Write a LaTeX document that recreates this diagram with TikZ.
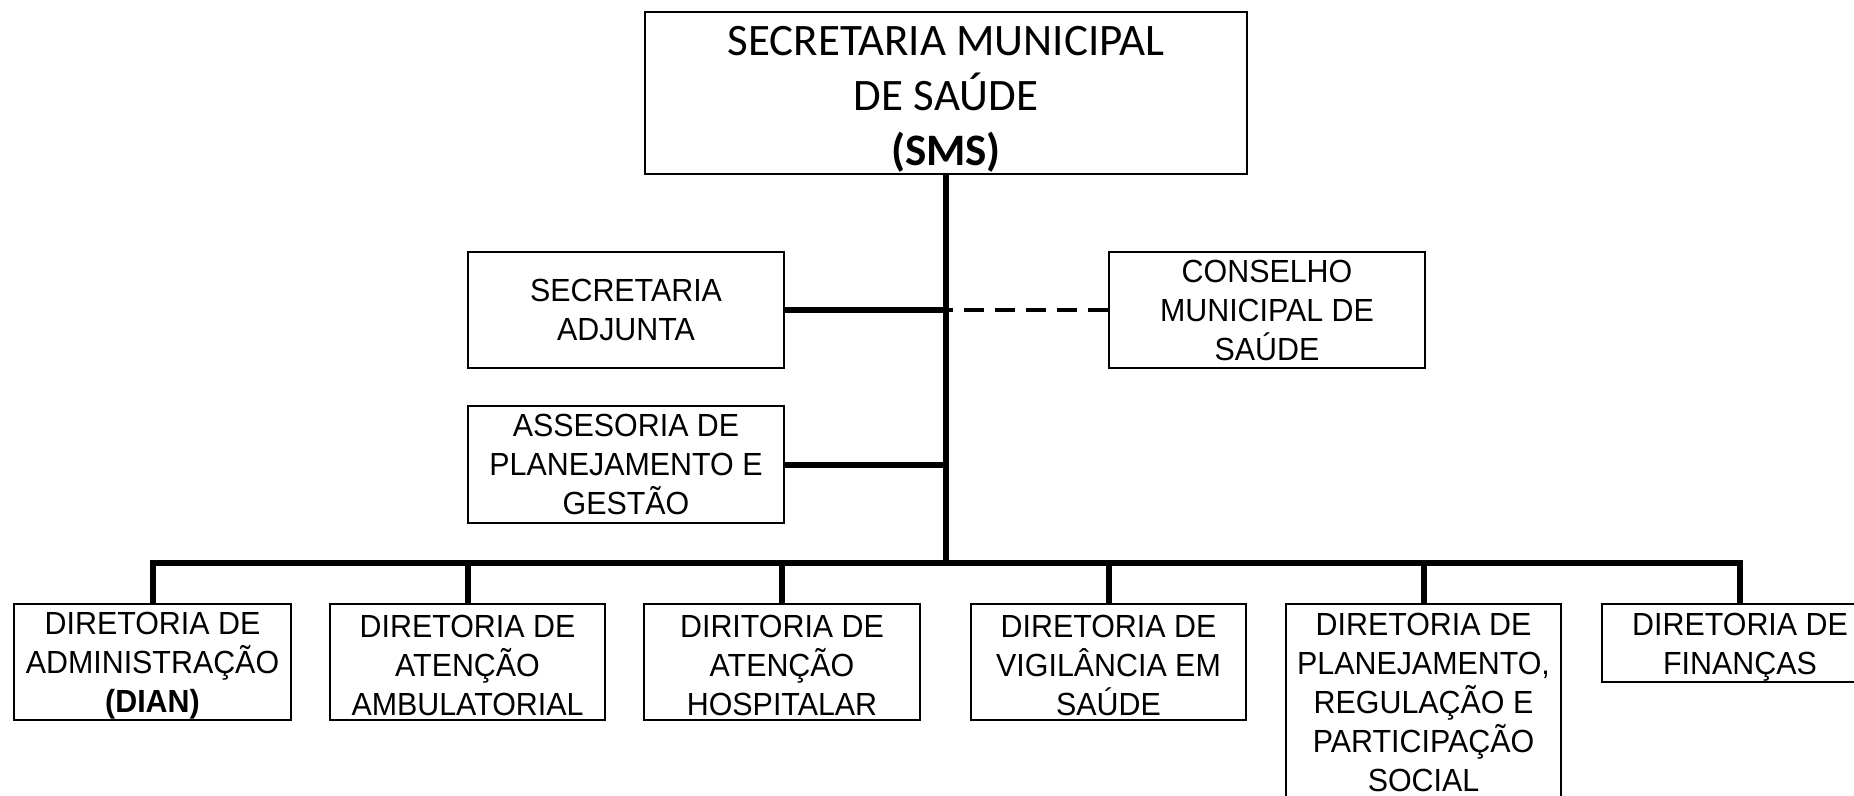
\documentclass[tikz,border=0pt]{standalone}
\usepackage{fontspec}
\setmainfont{Liberation Sans}
\newfontfamily\arialn[FakeStretch=0.95]{Liberation Sans}
\newfontfamily\calib{Carlito}
\newcommand{\lowerstrut}{\rule{0pt}{30pt}}
\begin{document}
\begin{tikzpicture}[x=1pt,y=-1pt,
  box/.style={draw,line width=2pt,rectangle,inner sep=0pt,align=center,
    font=\arialn\fontsize{32}{39}\selectfont,minimum width=277pt,minimum height=116pt},
  topbox/.style={draw,line width=2pt,rectangle,inner sep=0pt,
    minimum width=602pt,minimum height=162pt},
  toptext/.style={inner sep=0pt,align=center,font=\calib\fontsize{45}{55}\selectfont},
  link/.style={line width=6pt},
  dlink/.style={line width=4pt,dash pattern=on 20pt off 11pt}]
\useasboundingbox (0,0) rectangle (1854,795);
\clip (0,0) rectangle (1854,795);
\fill[white] (0,0) rectangle (1854,795);
\node[topbox] (sms) at (946,93) {};
\node[toptext] (smst) at ([yshift=-6pt]sms.center) {SECRETARIA MUNICIPAL\\DE SAÚDE\\\textbf{(SMS)}};
\node[box,minimum width=316pt] (sa) at (626,310) {SECRETARIA\\ADJUNTA};
\node[box,minimum width=316pt] (cms) at (1267,310) {CONSELHO\\MUNICIPAL DE\\SAÚDE};
\node[box,minimum width=316pt,minimum height=117pt] (apg) at (626,464.5) {ASSESORIA DE\\PLANEJAMENTO E\\GESTÃO};
\node[box] (b1) at (152.5,662) {\lowerstrut DIRETORIA DE\\ADMINISTRAÇÃO\\\textbf{(DIAN)}};
\node[box,minimum width=275pt] (b2) at (467.5,662) {\lowerstrut DIRETORIA DE\\ATENÇÃO\\AMBULATORIAL};
\node[box,minimum width=276pt] (b3) at (782,662) {\lowerstrut DIRITORIA DE\\ATENÇÃO\\HOSPITALAR};
\node[box,minimum width=275pt] (b4) at (1108.5,662) {\lowerstrut DIRETORIA DE\\VIGILÂNCIA EM\\SAÚDE};
\node[box,minimum width=275pt,minimum height=196pt] (b5) at (1423.5,702) {DIRETORIA DE\\PLANEJAMENTO,\\REGULAÇÃO E\\PARTICIPAÇÃO\\SOCIAL};
\node[box,minimum width=276pt,minimum height=78pt] (b6) at (1740,643) {\lowerstrut DIRETORIA DE\\FINANÇAS};
\coordinate (bus) at (946,563);
\draw[link] (sms.south) -- (bus);
\draw[link] (sa.east) -- (sa.east -| sms.south);
\draw[link] (apg.east) -- (apg.east -| sms.south);
\draw[dlink] (cms.west) -- (cms.west -| sms.south);
\draw[link,line cap=rect] (b1.north |- bus) -- (b6.north |- bus);
\foreach \n in {b1,b2,b3,b4,b5,b6} \draw[link] (\n.north) -- (\n.north |- bus);
\end{tikzpicture}
\end{document}
